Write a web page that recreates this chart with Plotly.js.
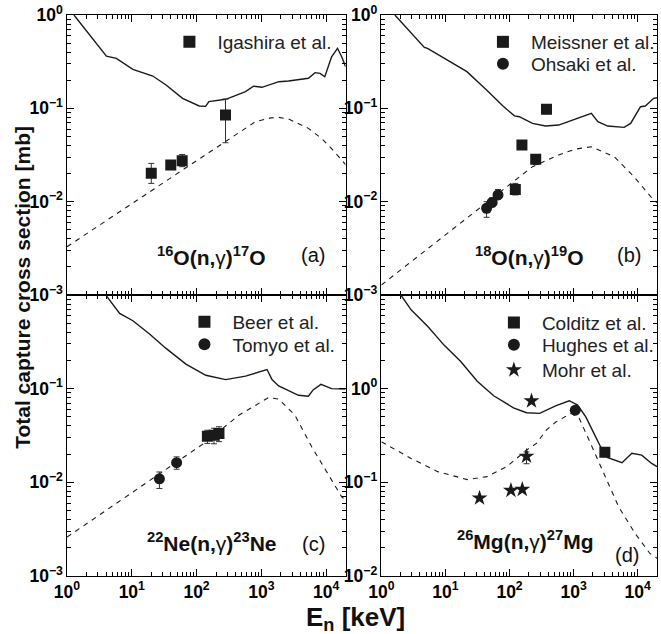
<!DOCTYPE html>
<html>
<head>
<meta charset="utf-8">
<script src="https://cdn.plot.ly/plotly-3.0.1.min.js"></script>
<style>html,body{margin:0;padding:0;background:#fff;}#chart{width:661px;height:634px;}</style>
</head>
<body>
<div id="chart"></div>
<script>
// ---------- Panel (a) 16O(n,g)17O ----------
const aSolidE = [1.28, 2.25, 4.06, 5.78, 10.4, 21.1, 33.8, 60.8, 110, 138, 155, 282, 570, 759, 1023, 1862, 2630, 5330, 6760, 8050, 9550, 12160, 15000, 17400, 20000];
const aSolidS = [1.0, 0.61, 0.363, 0.343, 0.262, 0.222, 0.178, 0.128, 0.106, 0.105, 0.118, 0.125, 0.151, 0.173, 0.168, 0.193, 0.196, 0.21, 0.241, 0.237, 0.218, 0.357, 0.44, 0.357, 0.279];
const aDashE = [1, 10, 100, 282, 500, 813, 1400, 1862, 2630, 5330, 8500, 12160, 17400, 20000];
const aDashS = [0.00329, 0.00946, 0.0272, 0.0439, 0.058, 0.072, 0.079, 0.080, 0.0768, 0.061, 0.0477, 0.037, 0.0279, 0.025];
const igashiraE = [20, 40, 60, 280];
const igashiraS = [0.0201, 0.0247, 0.0275, 0.0848];
const igashiraErrP = [0.0056, 0.0025, 0.0045, 0.041];
const igashiraErrM = [0.0044, 0.0025, 0.0038, 0.042];

// ---------- Panel (b) 18O(n,g)19O ----------
const bSolidE = [1.62, 4.68, 5.25, 9.48, 21.6, 43.8, 78.9, 119, 142, 228, 364, 583, 1050, 1890, 2390, 3400, 6140, 7760, 11070, 13180, 17700, 20000];
const bSolidS = [1.0, 0.45, 0.44, 0.343, 0.247, 0.157, 0.106, 0.083, 0.0813, 0.069, 0.0646, 0.0662, 0.0762, 0.0883, 0.0719, 0.0646, 0.0625, 0.069, 0.104, 0.106, 0.128, 0.13];
const bDashE = [1, 10, 100, 228, 583, 1050, 1890, 4315, 8750, 17700, 20000];
const bDashS = [0.00128, 0.0044, 0.0152, 0.0237, 0.0316, 0.0365, 0.0388, 0.0303, 0.0185, 0.0104, 0.0098];
const meissnerE = [123, 156, 256, 377];
const meissnerS = [0.0135, 0.0404, 0.0284, 0.0975];
const meissnerErrP = [0.0022, 0.004, 0.0036, 0.01];
const meissnerErrM = [0.0017, 0.004, 0.0034, 0.01];
const ohsakiE = [43.8, 53.5, 66];
const ohsakiS = [0.0085, 0.0098, 0.0118];
const ohsakiErrP = [0.0015, 0.0012, 0.0017];
const ohsakiErrM = [0.0017, 0.001, 0.0011];

// ---------- Panel (c) 22Ne(n,g)23Ne ----------
const cSolidE = [4.06, 6.5, 10.4, 18.8, 33.8, 68.5, 139, 281, 570, 1225, 1462, 1850, 3750, 5330, 6310, 8320, 12160, 20000];
const cSolidS = [0.98, 0.637, 0.531, 0.383, 0.269, 0.183, 0.139, 0.125, 0.136, 0.16, 0.125, 0.107, 0.085, 0.083, 0.097, 0.111, 0.1, 0.099];
const cDashE = [1, 10, 139, 451, 1300, 1850, 3310, 6030, 10700, 17400, 20000];
const cDashS = [0.0026, 0.00775, 0.0269, 0.0521, 0.0805, 0.0775, 0.052, 0.0238, 0.0124, 0.007, 0.0065];
const beerE = [147, 186, 222];
const beerS = [0.031, 0.0318, 0.0332];
const beerErr = [0.005, 0.006, 0.006];
const tomyoE = [26.7, 49.2];
const tomyoS = [0.0109, 0.0162];
const tomyoErrP = [0.002, 0.0025];
const tomyoErrM = [0.0023, 0.0024];

// ---------- Panel (d) 26Mg(n,g)27Mg ----------
const dSolidE = [2.01, 2.93, 5.3, 9.57, 17.3, 31.3, 56.5, 115, 184, 295, 533, 855, 1153, 1549, 2075, 2630, 3340, 5690, 8110, 11560, 16490, 20000];
const dSolidS = [10, 6.9, 4.6, 2.9, 1.95, 1.2, 0.84, 0.625, 0.553, 0.545, 0.66, 0.743, 0.668, 0.5, 0.333, 0.24, 0.185, 0.162, 0.204, 0.195, 0.159, 0.147];
const dDashE = [1, 2.9, 7.55, 21.9, 44.6, 90.6, 184, 262, 374, 533, 908, 1222, 1738, 2800, 5050, 9120, 15490, 20000];
const dDashS = [0.271, 0.18, 0.13, 0.107, 0.115, 0.147, 0.221, 0.26, 0.361, 0.443, 0.545, 0.482, 0.283, 0.135, 0.0547, 0.0284, 0.0174, 0.0155];
const colditzE = [3070];
const colditzS = [0.21];
const colditzErr = [0.022];
const hughesE = [1060];
const hughesS = [0.59];
const mohrE = [34, 105, 158, 184, 220];
const mohrS = [0.068, 0.082, 0.084, 0.19, 0.74];
const mohrErrP = [0, 0, 0, 0.021, 0];
const mohrErrM = [0, 0, 0, 0.032, 0];

const legendNames = {
  igashira: 'Igashira et al.', meissner: 'Meissner et al.', ohsaki: 'Ohsaki et al.',
  beer: 'Beer et al.', tomyo: 'Tomyo et al.', colditz: 'Colditz et al.',
  hughes: 'Hughes et al.', mohr: 'Mohr et al.'
};

const INK = '#1a1a1a';
function solid(x, y, xa, ya) {
  return {x, y, xaxis: xa, yaxis: ya, type: 'scatter', mode: 'lines', showlegend: false,
    line: {color: INK, width: 1.4}, hoverinfo: 'skip'};
}
function dashed(x, y, xa, ya) {
  return {x, y, xaxis: xa, yaxis: ya, type: 'scatter', mode: 'lines', showlegend: false,
    line: {color: INK, width: 1.1, dash: '5px,5px'}, hoverinfo: 'skip'};
}
function pts(x, y, ep, em, xa, ya, symbol, size, name, leg) {
  const t = {x, y, xaxis: xa, yaxis: ya, type: 'scatter', mode: 'markers', name, legend: leg,
    marker: {symbol, size, color: INK}};
  if (ep) {
    t.error_y = {type: 'data', array: ep, arrayminus: em, visible: true, color: '#333', thickness: 1, width: 3};
  }
  return t;
}
// empty helper traces that only carry the minor-tick overlay axes
function tickHolder(xa, ya) {
  return {x: [], y: [], xaxis: xa, yaxis: ya, type: 'scatter', mode: 'markers', showlegend: false, hoverinfo: 'skip'};
}

const data = [
  solid(aSolidE, aSolidS, 'x', 'y'), dashed(aDashE, aDashS, 'x', 'y'),
  pts(igashiraE, igashiraS, igashiraErrP, igashiraErrM, 'x', 'y', 'square', 11, legendNames.igashira, 'legend'),

  solid(bSolidE, bSolidS, 'x2', 'y2'), dashed(bDashE, bDashS, 'x2', 'y2'),
  pts(meissnerE, meissnerS, meissnerErrP, meissnerErrM, 'x2', 'y2', 'square', 11, legendNames.meissner, 'legend2'),
  pts(ohsakiE, ohsakiS, ohsakiErrP, ohsakiErrM, 'x2', 'y2', 'circle', 11, legendNames.ohsaki, 'legend3'),

  solid(cSolidE, cSolidS, 'x3', 'y3'), dashed(cDashE, cDashS, 'x3', 'y3'),
  pts(beerE, beerS, beerErr, beerErr, 'x3', 'y3', 'square', 11, legendNames.beer, 'legend4'),
  pts(tomyoE, tomyoS, tomyoErrP, tomyoErrM, 'x3', 'y3', 'circle', 11, legendNames.tomyo, 'legend5'),

  solid(dSolidE, dSolidS, 'x4', 'y4'), dashed(dDashE, dDashS, 'x4', 'y4'),
  pts(colditzE, colditzS, colditzErr, colditzErr, 'x4', 'y4', 'square', 11, legendNames.colditz, 'legend6'),
  pts(hughesE, hughesS, null, null, 'x4', 'y4', 'circle', 11, legendNames.hughes, 'legend7'),
  pts(mohrE, mohrS, mohrErrP, mohrErrM, 'x4', 'y4', 'star', 12, legendNames.mohr, 'legend8'),

  tickHolder('x5', 'y5'), tickHolder('x6', 'y6'), tickHolder('x7', 'y7'), tickHolder('x8', 'y8')
];

// minor tick positions: digits 2..9 of every decade in the visible range
function minorVals(lo, hi) {
  const v = [];
  for (let p = lo; p < hi; p++) for (let d = 2; d <= 9; d++) v.push(d * Math.pow(10, p));
  return v;
}
const xRange = [0, Math.log10(20000)];

const tickFont = {family: 'Liberation Sans, Arial, sans-serif', size: 14, color: '#000', weight: 'bold'};
function xax(domain, anchor, labels) {
  return {domain, anchor, type: 'log', range: xRange, dtick: 1,
    exponentformat: 'power', labelalias: {'1': '10<sup>0</sup>', '10': '10<sup>1</sup>'},
    showticklabels: labels, tickfont: tickFont,
    ticks: 'inside', ticklen: 7, tickwidth: 1, tickcolor: '#000',
    showline: true, linecolor: '#000', linewidth: 1.3, mirror: 'ticks',
    showgrid: false, zeroline: false, fixedrange: true};
}
function yax(domain, anchor, range, alias) {
  return {domain, anchor, type: 'log', range, dtick: 1,
    exponentformat: 'power', labelalias: alias, tickfont: tickFont,
    ticks: 'inside', ticklen: 7, tickwidth: 1, tickcolor: '#000',
    showline: true, linecolor: '#000', linewidth: 1.3, mirror: 'ticks',
    showgrid: false, zeroline: false, fixedrange: true};
}
// overlay axes carrying only the short minor ticks
function minorAx(over, anchor, range) {
  return {overlaying: over, anchor, type: 'log', range, tickmode: 'array',
    tickvals: minorVals(Math.floor(range[0]), Math.ceil(range[1])), showticklabels: false,
    ticks: 'inside', ticklen: 4, tickwidth: 1, tickcolor: '#000',
    showline: false, mirror: 'ticks', showgrid: false, zeroline: false, fixedrange: true};
}
const topRow = [0.5009, 1], botRow = [0, 0.5009];
const leftCol = [0, 0.4722], rightCol = [0.5329, 1];

const legFont = {family: 'Liberation Sans, Arial, sans-serif', size: 19, color: '#222'};
function leg(x, y) {
  return {x, y, xref: 'paper', yref: 'paper', xanchor: 'left', yanchor: 'middle',
    bgcolor: 'rgba(0,0,0,0)', borderwidth: 0, font: legFont, itemwidth: 46,
    itemsizing: 'constant', tracegroupgap: 0};
}

const rxnFont = {family: 'Liberation Sans, Arial, sans-serif', size: 21, color: '#111', weight: 'normal'};
const panLbl = {family: 'Liberation Sans, Arial, sans-serif', size: 20, color: '#111'};
function ann(text, x, y, font, extra) {
  return Object.assign({text, x, y, xref: 'paper', yref: 'paper', xanchor: 'center', yanchor: 'middle',
    showarrow: false, font}, extra || {});
}
function rxn(a, el1, b, el2) {
  return '<b><sup>' + a + '</sup>' + el1 + '(n,</b>γ<b>)<sup>' + b + '</sup>' + el2 + '</b>';
}

const layout = {
  width: 661, height: 634,
  margin: {l: 67, r: 1, t: 15, b: 58},
  paper_bgcolor: '#fff', plot_bgcolor: '#fff',
  showlegend: true,
  xaxis: xax(leftCol, 'y', false),
  xaxis2: xax(rightCol, 'y2', false),
  xaxis3: xax(leftCol, 'y3', true),
  xaxis4: xax(rightCol, 'y4', true),
  yaxis: yax(topRow, 'x', [-3, 0], {'1': '10<sup>0</sup>'}),
  yaxis2: yax(topRow, 'x2', [-3, 0], {'1': '10<sup>0</sup>'}),
  yaxis3: yax(botRow, 'x3', [-3, 0], {'1': ''}),
  yaxis4: yax(botRow, 'x4', [-2, 1], {'1': '10<sup>0</sup>', '10': ''}),
  xaxis5: minorAx('x', 'y5', xRange), yaxis5: minorAx('y', 'x5', [-3, 0]),
  xaxis6: minorAx('x2', 'y6', xRange), yaxis6: minorAx('y2', 'x6', [-3, 0]),
  xaxis7: minorAx('x3', 'y7', xRange), yaxis7: minorAx('y3', 'x7', [-3, 0]),
  xaxis8: minorAx('x4', 'y8', xRange), yaxis8: minorAx('y4', 'x8', [-2, 1]),
  legend: leg(0.160, 0.9519),
  legend2: leg(0.6914, 0.9519),
  legend3: leg(0.6914, 0.9127),
  legend4: leg(0.1855, 0.4528),
  legend5: leg(0.1855, 0.4127),
  legend6: leg(0.710, 0.4515),
  legend7: leg(0.710, 0.4118),
  legend8: leg(0.710, 0.3672),
  annotations: [
    ann('Total capture cross section [mb]', -0.0759, 0.514,
      {family: 'Liberation Sans, Arial, sans-serif', size: 21, color: '#111', weight: 'bold'}, {textangle: -90}),
    ann('E<sub>n</sub> [keV]', 0.489, -0.0755,
      {family: 'Liberation Sans, Arial, sans-serif', size: 26, color: '#111', weight: 'bold'}),
    ann(rxn('16', 'O', '17', 'O'), 0.2445, 0.5704, rxnFont),
    ann('(a)', 0.4165, 0.5722, panLbl),
    ann(rxn('18', 'O', '19', 'O'), 0.7841, 0.5704, rxnFont),
    ann('(b)', 0.9528, 0.572, panLbl),
    ann(rxn('22', 'Ne', '23', 'Ne'), 0.2462, 0.0606, rxnFont),
    ann('(c)', 0.4182, 0.057, panLbl),
    ann(rxn('26', 'Mg', '27', 'Mg'), 0.7774, 0.0642, rxnFont),
    ann('(d)', 0.9494, 0.0374, panLbl)
  ]
};

Plotly.newPlot('chart', data, layout, {staticPlot: true, displayModeBar: false});
</script>
</body>
</html>
